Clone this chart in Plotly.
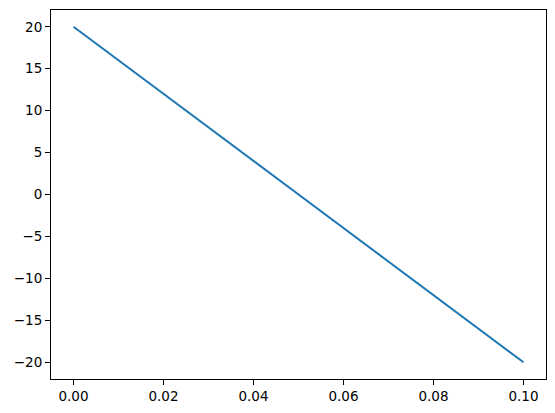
import plotly.graph_objects as go

x_vals = [0.0, 0.1]
y_vals = [20, -20]

fig = go.Figure()
fig.add_trace(go.Scatter(x=x_vals, y=y_vals, mode="lines",
                         line=dict(color="#1f77b4", width=2)))

axis_style = dict(showline=True, linecolor="black", linewidth=1, mirror=True,
                  ticks="outside", ticklen=5, tickwidth=1, tickcolor="black",
                  showgrid=False, zeroline=False,
                  tickfont=dict(family="DejaVu Sans", size=13.5, color="black"))

fig.update_xaxes(range=[-0.005, 0.105], tick0=0, dtick=0.02, tickformat=".2f", **axis_style)
fig.update_yaxes(range=[-22, 22], tick0=0, dtick=5, **axis_style)

# page body keeps its default 8px margin, so the figure is sized and
# offset to land the axes where the reference has them
fig.update_layout(width=539, height=397, showlegend=False,
                  margin=dict(l=43, r=1, t=2, b=26),
                  plot_bgcolor="white", paper_bgcolor="white")

fig.write_html("out.html")
